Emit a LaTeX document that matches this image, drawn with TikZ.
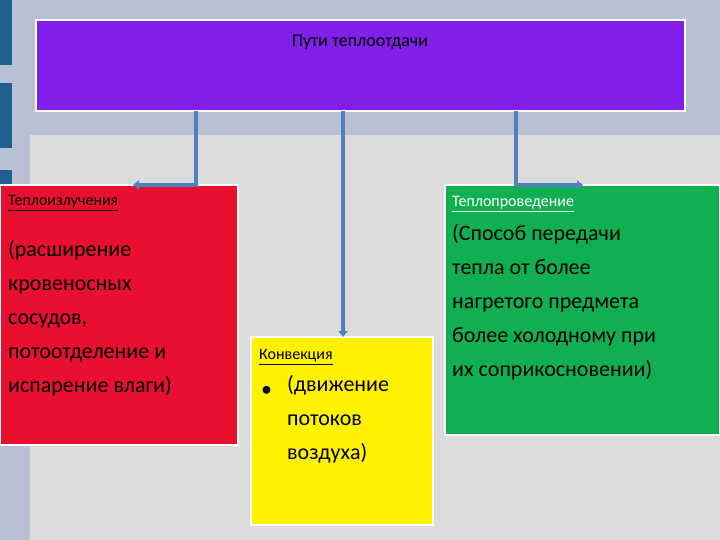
\documentclass[tikz,border=0pt]{standalone}
\usepackage{fontspec}
\setmainfont{Carlito}
\usetikzlibrary{arrows.meta}
\definecolor{bgb}{HTML}{B8C0D4}
\definecolor{bgl}{HTML}{DCDCDC}
\definecolor{barb}{HTML}{1F5F8F}
\definecolor{purp}{HTML}{8020E8}
\definecolor{redb}{HTML}{E8102E}
\definecolor{grnb}{HTML}{10B050}
\definecolor{conn}{HTML}{4F81BD}
\tikzset{
 box/.style={draw=white,line width=2.5pt},
 conline/.style={draw=conn,line width=3.5pt,-{Triangle[length=6pt,width=9pt]}},
 ttl/.style={anchor=west,inner sep=0pt,font=\fontsize{16}{18}\selectfont},
 body/.style={anchor=north west,inner sep=0pt,align=left,font=\fontsize{22}{34}\selectfont},
}
\begin{document}
\begin{tikzpicture}[x=1pt,y=-1pt]
\useasboundingbox (0,0) rectangle (720,540);
\fill[bgb] (0,0) rectangle (720,540);
\fill[bgl] (30,135) rectangle (720,540);
\fill[barb] (0,0) rectangle (12,65);
\fill[barb] (0,83) rectangle (12,148);
\fill[barb] (0,170) rectangle (12,185);
\draw[box,fill=purp] (36,20) rectangle (685,111);
\node[inner sep=0pt,font=\fontsize{18}{20}\selectfont] (top) at (360,42) {Пути теплоотдачи};
\coordinate (t1) at (196,111); \coordinate (t2) at (343,111); \coordinate (t3) at (516,111);
\draw[box,fill=redb] (0,185) rectangle (238,445);
\draw[box,fill=yellow] (251,337) rectangle (433,525);
\draw[box,fill=grnb] (445,185) rectangle (720,435);
\coordinate (a1) at (133,185); \coordinate (a2) at (343,337); \coordinate (a3) at (583,185);
\draw[conline] (t1) |- (a1);
\draw[conline] (t2) -- (a2);
\draw[conline] (t3) |- (a3);
\node[ttl] (r) at (8,203) {\underline{Теплоизлучения}};
\node[body] (rb) at (8,240) {(расширение\\кровеносных\\сосудов,\\потоотделение и\\испарение влаги)};
\node[ttl] (y) at (259,357) {\underline{Конвекция}};
\node[anchor=west,inner sep=0pt,font=\fontsize{22}{34}\selectfont] (bul) at (261,391) {•};
\node[body] (yb) at (287,375) {(движение\\потоков\\воздуха)};
\node[ttl,text=white] (g) at (452,204) {\underline{Теплопроведение}};
\node[body] (gb) at (452,224) {(Способ передачи\\тепла от более\\нагретого предмета\\более холодному при\\их соприкосновении)};
\end{tikzpicture}
\end{document}
